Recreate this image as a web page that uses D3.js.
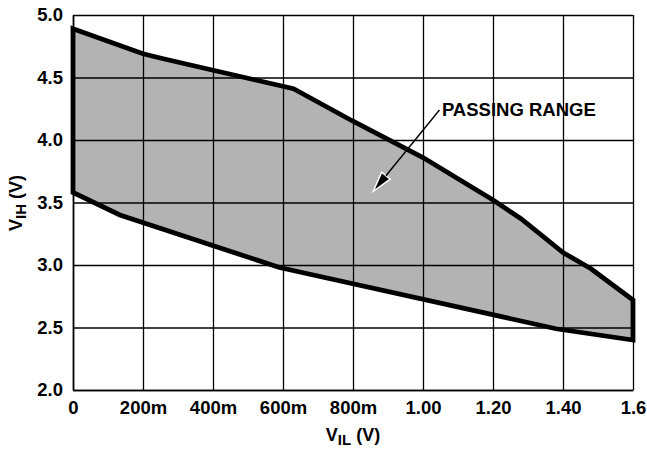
<!DOCTYPE html>
<html>
<head>
<meta charset="utf-8">
<script src="https://cdn.jsdelivr.net/npm/d3@7"></script>
<style>
  body { margin: 0; background: #fff; }
  svg { font-family: "Liberation Sans", Arial, sans-serif; font-weight: bold; }
</style>
</head>
<body>
<div class="box"></div>
<script>
// data
const upperVil = [0, 0.2, 0.258, 0.63, 0.8, 1.0, 1.2, 1.28, 1.40, 1.48, 1.6];
const upperVih = [4.89, 4.69, 4.65, 4.41, 4.15, 3.86, 3.52, 3.37, 3.10, 2.97, 2.72];
const lowerVil = [0, 0.134, 0.59, 1.38, 1.6];
const lowerVih = [3.58, 3.40, 2.98, 2.49, 2.40];

const xTicks = [0, 0.2, 0.4, 0.6, 0.8, 1.0, 1.2, 1.4, 1.6];
const xTickLabels = ['0', '200m', '400m', '600m', '800m', '1.00', '1.20', '1.40', '1.6'];
const yTicks = [2.0, 2.5, 3.0, 3.5, 4.0, 4.5, 5.0];
const yTickLabels = ['2.0', '2.5', '3.0', '3.5', '4.0', '4.5', '5.0'];

const margin = {top: 15, left: 73};
const width = 560, height = 375;

const svg = d3.select('.box').append('svg')
              .attr('width', 647)
              .attr('height', 450);

const g = svg.append('g')
             .attr('transform', `translate(${margin.left},${margin.top})`);

const x = d3.scaleLinear().domain([0, 1.6]).range([0, width]);
const y = d3.scaleLinear().domain([2, 5]).range([height, 0]);

// polygon: upper edge left->right, then lower edge right->left
const pts = upperVil.map((v, i) => [v, upperVih[i]])
  .concat(lowerVil.map((v, i) => [v, lowerVih[i]]).reverse());

const line = d3.line().x(d => x(d[0])).y(d => y(d[1]));

g.append('path')
 .attr('d', line(pts) + 'Z')
 .attr('fill', '#b3b3b3');

// grid + axes
const xAxis = g.append('g')
  .attr('transform', `translate(0,${height})`)
  .call(d3.axisBottom(x).tickValues(xTicks)
          .tickFormat((d, i) => xTickLabels[i])
          .tickSize(-height).tickSizeOuter(0).tickPadding(11));

const yAxis = g.append('g')
  .call(d3.axisLeft(y).tickValues(yTicks)
          .tickFormat((d, i) => yTickLabels[i])
          .tickSize(-width).tickSizeOuter(0).tickPadding(10));

[xAxis, yAxis].forEach(a => {
  a.select('.domain').attr('stroke', '#000').attr('stroke-width', 1.6);
  a.selectAll('.tick line').attr('stroke', '#000').attr('stroke-width', 1.3);
  a.selectAll('.tick text')
   .attr('fill', '#000')
   .style('font-size', '18.5px')
   .style('font-weight', 'bold')
   .style('font-family', '"Liberation Sans", Arial, sans-serif');
});

// thick outline
g.append('path')
 .attr('d', line(pts) + 'Z')
 .attr('fill', 'none')
 .attr('stroke', '#000')
 .attr('stroke-width', 4.8)
 .attr('stroke-linejoin', 'miter')
 .attr('stroke-miterlimit', 2);

// annotation
const tip = [x(0.858), y(3.59)];
const ang = Math.atan2(y(4.24) - tip[1], x(1.047) - tip[0]);
const hl = 20, hw = 5.5;
const bx = tip[0] + hl * Math.cos(ang), by = tip[1] + hl * Math.sin(ang);
g.append('path')
 .attr('d', `M${tip[0]},${tip[1]}` +
            `L${bx - hw * Math.sin(ang)},${by + hw * Math.cos(ang)}` +
            `L${bx + hw * Math.sin(ang)},${by - hw * Math.cos(ang)}Z`)
 .attr('fill', '#000')
 .attr('stroke', '#fff')
 .attr('stroke-width', 1.5);

g.append('line')
 .attr('x1', x(1.047)).attr('y1', y(4.24))
 .attr('x2', bx).attr('y2', by)
 .attr('stroke', '#000')
 .attr('stroke-width', 1.4);

g.append('text')
 .attr('x', x(1.054)).attr('y', y(4.24) + 6)
 .style('font-size', '18.5px')
 .text('PASSING RANGE');

// axis titles
const xt = svg.append('text')
  .attr('x', 353).attr('y', 441)
  .attr('text-anchor', 'middle')
  .style('font-size', '18px');
xt.append('tspan').text('V');
xt.append('tspan').attr('dy', 4).style('font-size', '15px').text('IL');
xt.append('tspan').attr('dy', -4).text(' (V)');

const yt = svg.append('text')
  .attr('transform', 'translate(22,203) rotate(-90)')
  .attr('text-anchor', 'middle')
  .style('font-size', '18px');
yt.append('tspan').text('V');
yt.append('tspan').attr('dy', 4).style('font-size', '15px').text('IH');
yt.append('tspan').attr('dy', -4).text(' (V)');
</script>
</body>
</html>
